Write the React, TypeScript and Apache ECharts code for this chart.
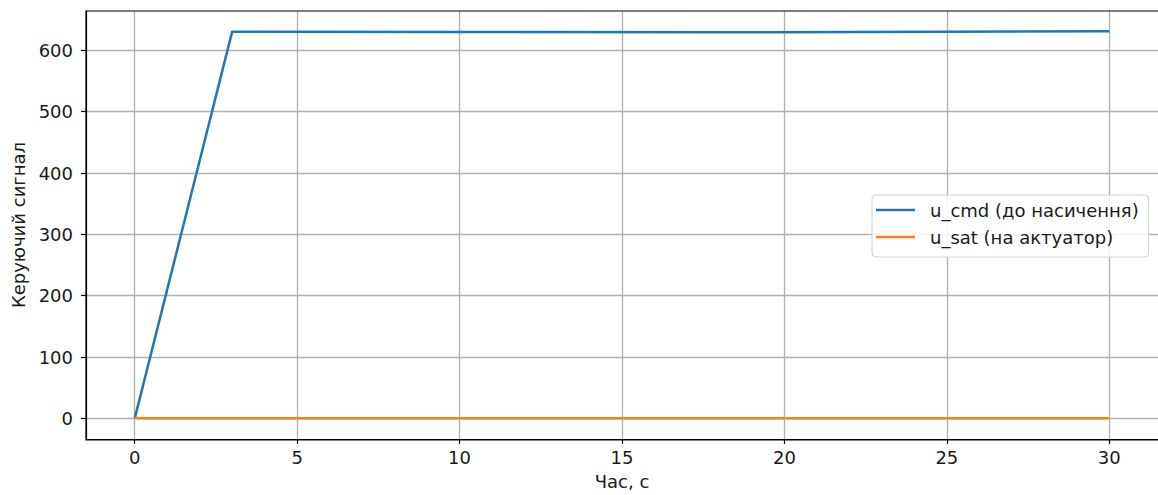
import React, { useEffect, useRef } from "react";
import * as echarts from "echarts";

const times = [0, 3, 10, 19, 25, 30];
const uCmd = [0, 630.5, 630.0, 629.6, 630.3, 631.2];
const uSat = [0, 0, 0, 0, 0, 0];
const xTicks = [0, 5, 10, 15, 20, 25, 30];
const yTicks = [0, 100, 200, 300, 400, 500, 600];
const seriesNames = ["u_cmd (до насичення)", "u_sat (на актуатор)"];
const xLabel = "Час, с";
const yLabel = "Керуючий сигнал";

const FONT = "DejaVu Sans";
const FS = 18;

export default function App() {
  const ref = useRef<HTMLDivElement>(null);
  useEffect(() => {
    if (!ref.current) return;
    const chart = echarts.init(ref.current, null, { renderer: "svg" });
    const axisLine = { show: true, onZero: false, lineStyle: { color: "#000", width: 1.2 } };
    chart.setOption({
      animation: false,
      backgroundColor: "#fff",
      grid: { left: 86, top: 11, width: 1073, height: 429, containLabel: false, show: false },
      legend: {
        orient: "vertical",
        left: 872,
        top: 195,
        padding: [6, 10, 11, 4],
        backgroundColor: "rgba(255,255,255,0.85)",
        borderColor: "#d0d0d0",
        borderWidth: 1,
        borderRadius: 4,
        itemWidth: 39,
        itemHeight: 2.5,
        itemGap: 9,
        icon: "rect",
        textStyle: { fontFamily: FONT, fontSize: FS, color: "#1a1a1a", padding: [0, 0, 0, 10], lineHeight: 18 },
        data: seriesNames,
      },
      xAxis: {
        type: "value",
        min: -1.5,
        max: 31.5,
        name: xLabel,
        nameLocation: "middle",
        nameGap: 33,
        nameTextStyle: { fontFamily: FONT, fontSize: FS, color: "#1a1a1a" },
        axisLine,
        axisTick: { show: true, length: 5, inside: false, customValues: xTicks, lineStyle: { color: "#000", width: 1.2 } },
        axisLabel: { customValues: xTicks, fontFamily: FONT, fontSize: FS, color: "#1a1a1a", margin: 9 },
        splitLine: { show: true, lineStyle: { color: "#b0b0b0", width: 1.3 } },
      },
      yAxis: {
        type: "value",
        min: -33.7,
        max: 664.2,
        name: yLabel,
        nameLocation: "middle",
        nameGap: 57,
        nameTextStyle: { fontFamily: FONT, fontSize: FS, color: "#1a1a1a" },
        axisLine,
        axisTick: { show: true, length: 5, inside: false, customValues: yTicks, lineStyle: { color: "#000", width: 1.2 } },
        axisLabel: { customValues: yTicks, fontFamily: FONT, fontSize: FS, color: "#1a1a1a", margin: 13 },
        splitLine: { show: true, lineStyle: { color: "#b0b0b0", width: 1.3 } },
      },
      graphic: [
        {
          type: "rect",
          shape: { x: 86, y: 11, width: 1073, height: 429 },
          style: { fill: "none", stroke: "#000", lineWidth: 1.2 },
          silent: true,
          z: 100,
        },
      ],
      series: [
        {
          name: seriesNames[0],
          type: "line",
          data: times.map((t, i) => [t, uCmd[i]]),
          showSymbol: false,
          lineStyle: { color: "#1f77b4", width: 2.5 },
          itemStyle: { color: "#1f77b4" },
          z: 3,
        },
        {
          name: seriesNames[1],
          type: "line",
          data: times.map((t, i) => [t, uSat[i]]),
          showSymbol: false,
          lineStyle: { color: "#ff7f0e", width: 2.5 },
          itemStyle: { color: "#ff7f0e" },
          z: 4,
        },
      ],
    });
    return () => chart.dispose();
  }, []);
  return <div ref={ref} style={{ position: "absolute", left: 0, top: 0, width: 1158, height: 495 }} />;
}
